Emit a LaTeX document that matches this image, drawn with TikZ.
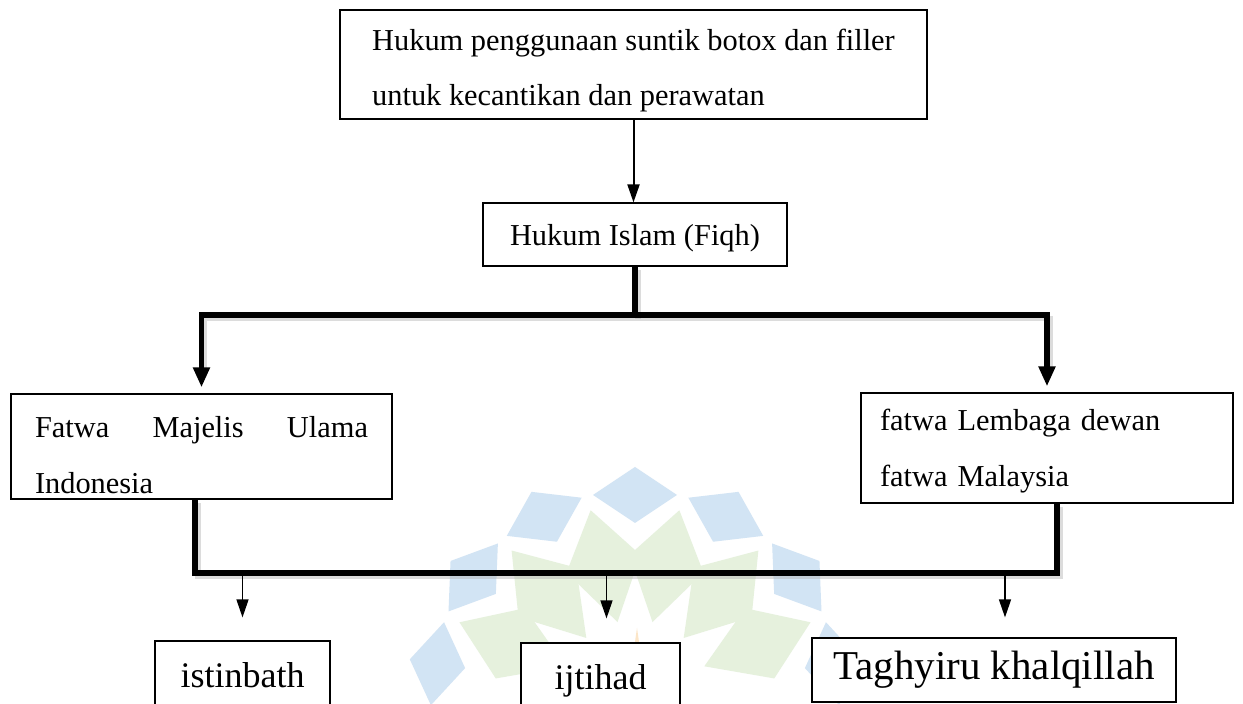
\documentclass[tikz,border=0pt]{standalone}
\usepackage{fontspec}
\setmainfont{Liberation Serif}
\usetikzlibrary{arrows.meta}
\definecolor{wmblue}{RGB}{210,228,244}
\definecolor{wmgreen}{RGB}{230,241,221}
\definecolor{wmorange}{RGB}{252,230,200}
\newcommand{\upstrut}[1]{\rule{0pt}{#1}}
\begin{document}
\begin{tikzpicture}[x=0.5pt,y=-0.5pt,
  box/.style={draw=black, line width=0.6pt, inner sep=0pt, fill=white, font=\fontsize{15.2}{27.5}\selectfont},
  fatwabox/.style={box, font=\fontsize{15.2}{28}\selectfont},
  lowbox/.style={box, font=\fontsize{18}{22}\selectfont},
  thickline/.style={line width=2.6pt},
  thickarrow/.style={line width=2.6pt, -{Triangle[width=8pt,length=10pt]}, shorten >=3pt},
  thinarrow/.style={line width=0.7pt, -{Triangle[width=6pt,length=9pt]}},
  midarrow/.style={line width=1pt, -{Triangle[width=6pt,length=9pt]}},
  shade/.style={draw=black!30, line width=2.6pt, opacity=0.45},
]
\clip (0,0) rectangle (1243,704);
\fill[white] (0,0) rectangle (1243,704);
% faint watermark
\foreach \a in {9,36,63,90,117,144,171}
  \fill[wmblue, shift={(635,695)}, rotate=\a] (172,0) -- (200,-42) -- (228,0) -- (200,42) -- cycle;
\foreach \a in {22.5,49.5,76.5,103.5,130.5,157.5}
  \fill[wmgreen, shift={(635,695)}, rotate=\a] (75,0) -- (135,-38) -- (190,0) -- (135,38) -- cycle;
\fill[wmorange] (626,704) -- (637,628) -- (648,704) -- cycle;
% boxes
\node[box, minimum width=293.5pt, minimum height=54.5pt, align=left] (top) at (633.5,64.5)
  {\upstrut{17pt}Hukum penggunaan suntik botox dan filler\\untuk kecantikan dan perawatan};
\node[box, minimum width=152pt, minimum height=31.5pt] (islam) at (635,234.5) {\upstrut{14.5pt}Hukum Islam (Fiqh)};
\node[fatwabox, minimum width=190.5pt, minimum height=52.5pt, text width=166.5pt, align=left] (mui) at (201.5,446.5)
  {\upstrut{19.5pt}Fatwa\hfill Majelis\hfill Ulama\\Indonesia};
\node[fatwabox, minimum width=186pt, minimum height=55pt, text width=167pt, align=left] (mal) at (1047,448)
  {\upstrut{13.5pt}fatwa Lembaga dewan\\fatwa Malaysia};
\node[lowbox, minimum width=87.5pt, minimum height=34pt] (ist) at (242.5,675) {istinbath};
\node[lowbox, minimum width=79.5pt, minimum height=34pt] (ijt) at (600.5,677) {\upstrut{16pt}ijtihad};
\node[lowbox, font=\fontsize{20.5}{22}\selectfont, minimum width=182pt, minimum height=32pt] (tag) at (994,670) {Taghyiru khalqillah};
% connectors
\draw[midarrow] (top.south) -- (top.south |- islam.north);
\coordinate (hub) at (635,315);
\coordinate (bot) at (626,573);
\begin{scope}[transform canvas={shift={(1.5pt,-1.8pt)}}]
  \draw[shade] (islam.south) -- (hub);
  \draw[shade, shorten >=13pt, shorten <=13pt] (mui.north) |- (hub) -| (mal.north);
  \draw[shade] ([xshift=-3.25pt]mui.south) |- (bot) -| ([xshift=5pt]mal.south);
\end{scope}
\draw[thickline] (islam.south) -- (hub);
\draw[thickarrow] (hub) -| (mui.north);
\draw[thickarrow] (hub) -| (mal.north);
\draw[thickline] ([xshift=-3.25pt]mui.south) |- (bot) -| ([xshift=5pt]mal.south);
\draw[thinarrow] (ist.north |- bot) -- ([yshift=11.5pt]ist.north);
\draw[thinarrow] ([xshift=3pt]ijt.north |- bot) -- ([xshift=3pt,yshift=12pt]ijt.north);
\draw[thinarrow] ([xshift=5.5pt]tag.north |- bot) -- ([xshift=5.5pt,yshift=10pt]tag.north);
\end{tikzpicture}
\end{document}
